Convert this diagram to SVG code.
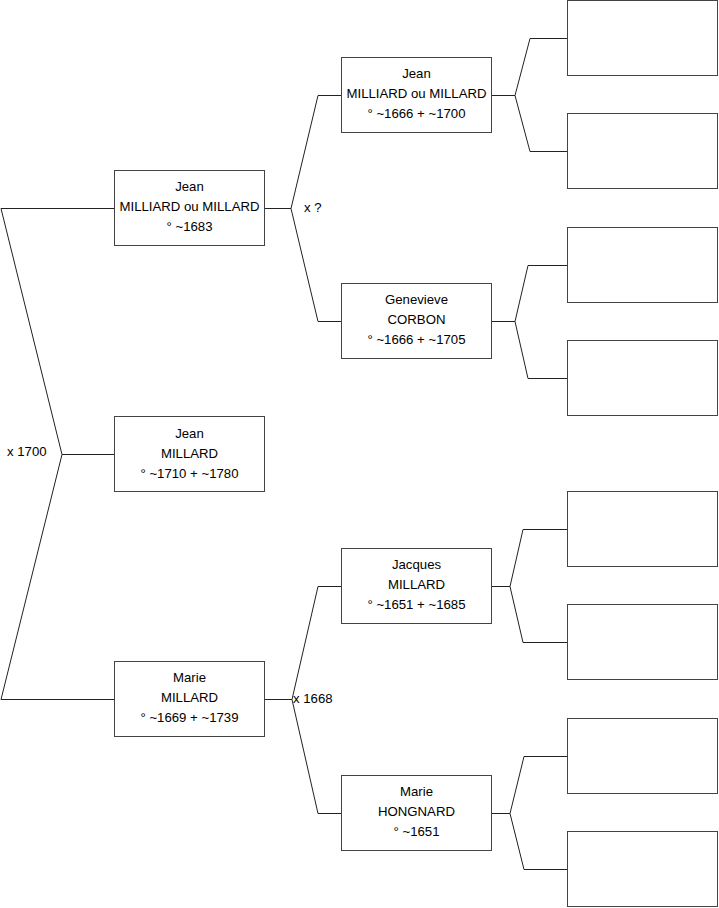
<svg xmlns="http://www.w3.org/2000/svg" width="719" height="908" viewBox="0 0 719 908">
<style>
.box{fill:#fff;stroke:#444;stroke-width:1}
.ln{fill:none;stroke:#222;stroke-width:1}
text{font-family:"Liberation Sans",Arial,sans-serif;font-size:13.2px;fill:#000}
.c{text-anchor:middle}
</style>
<rect width="719" height="908" fill="#fff"/>
<g id="connectors">
<polyline class="ln" points="114,208.5 1,208.5 62,454.5 114,454.5"/>
<polyline class="ln" points="62,454.5 1,699.5 114,699.5"/>
<polyline class="ln" points="265,208.5 291,208.5 318,95.5 341,95.5"/>
<polyline class="ln" points="291,208.5 318,321.5 341,321.5"/>
<polyline class="ln" points="265,699.5 292,699.5 318,586.5 341,586.5"/>
<polyline class="ln" points="292,699.5 318,813.5 341,813.5"/>
<polyline class="ln" points="492,95.5 515,95.5 530,38.5 567,38.5"/>
<polyline class="ln" points="515,95.5 530,151.5 567,151.5"/>
<polyline class="ln" points="492,321.5 515,321.5 528,265.5 567,265.5"/>
<polyline class="ln" points="515,321.5 528,378.5 567,378.5"/>
<polyline class="ln" points="492,586.5 510,586.5 523,529.5 567,529.5"/>
<polyline class="ln" points="510,586.5 523,642.5 567,642.5"/>
<polyline class="ln" points="492,813.5 510,813.5 524,756.5 567,756.5"/>
<polyline class="ln" points="510,813.5 524,869.5 567,869.5"/>
<text x="7" y="456">x 1700</text>
<text x="304" y="212">x ?</text>
<text x="293" y="703">x 1668</text>
</g>
<g id="n-jean-millard">
<rect class="box" x="114.5" y="416.5" width="150" height="75"/>
<text class="c" x="189.5" y="438">Jean</text>
<text class="c" x="189.5" y="458">MILLARD</text>
<text class="c" x="189.5" y="478">° ~1710 + ~1780</text>
</g>
<g id="n-jean-milliard-1683">
<rect class="box" x="114.5" y="170.5" width="150" height="75"/>
<text class="c" x="189.5" y="191">Jean</text>
<text class="c" x="189.5" y="211">MILLIARD ou MILLARD</text>
<text class="c" x="189.5" y="231">° ~1683</text>
</g>
<g id="n-marie-millard">
<rect class="box" x="114.5" y="661.5" width="150" height="75"/>
<text class="c" x="189.5" y="682">Marie</text>
<text class="c" x="189.5" y="702">MILLARD</text>
<text class="c" x="189.5" y="722">° ~1669 + ~1739</text>
</g>
<g id="n-jean-milliard-1666">
<rect class="box" x="341.5" y="57.5" width="150" height="75"/>
<text class="c" x="416.5" y="78">Jean</text>
<text class="c" x="416.5" y="98">MILLIARD ou MILLARD</text>
<text class="c" x="416.5" y="118">° ~1666 + ~1700</text>
</g>
<g id="n-genevieve-corbon">
<rect class="box" x="341.5" y="283.5" width="150" height="75"/>
<text class="c" x="416.5" y="304">Genevieve</text>
<text class="c" x="416.5" y="324">CORBON</text>
<text class="c" x="416.5" y="344">° ~1666 + ~1705</text>
</g>
<g id="n-jacques-millard">
<rect class="box" x="341.5" y="548.5" width="150" height="75"/>
<text class="c" x="416.5" y="569">Jacques</text>
<text class="c" x="416.5" y="589">MILLARD</text>
<text class="c" x="416.5" y="609">° ~1651 + ~1685</text>
</g>
<g id="n-marie-hongnard">
<rect class="box" x="341.5" y="775.5" width="150" height="75"/>
<text class="c" x="416.5" y="796">Marie</text>
<text class="c" x="416.5" y="816">HONGNARD</text>
<text class="c" x="416.5" y="836">° ~1651</text>
</g>
<g id="n-g4-1"><rect class="box" x="567.5" y="0.5" width="150" height="75"/></g>
<g id="n-g4-2"><rect class="box" x="567.5" y="113.5" width="150" height="75"/></g>
<g id="n-g4-3"><rect class="box" x="567.5" y="227.5" width="150" height="75"/></g>
<g id="n-g4-4"><rect class="box" x="567.5" y="340.5" width="150" height="75"/></g>
<g id="n-g4-5"><rect class="box" x="567.5" y="491.5" width="150" height="75"/></g>
<g id="n-g4-6"><rect class="box" x="567.5" y="604.5" width="150" height="75"/></g>
<g id="n-g4-7"><rect class="box" x="567.5" y="718.5" width="150" height="75"/></g>
<g id="n-g4-8"><rect class="box" x="567.5" y="831.5" width="150" height="75"/></g>
</svg>
